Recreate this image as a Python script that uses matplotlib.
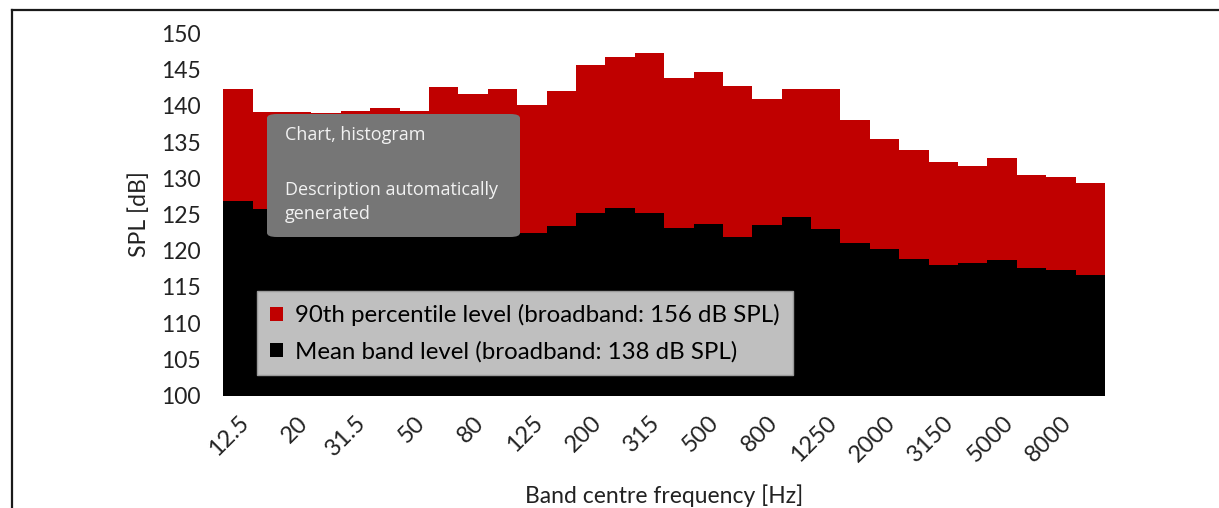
import matplotlib
matplotlib.use("Agg")
import matplotlib.pyplot as plt
from matplotlib.patches import FancyBboxPatch, Patch
from matplotlib.lines import Line2D
import numpy as np

# third-octave band centres [Hz]
bands = ["12.5", "16", "20", "25", "31.5", "40", "50", "63", "80", "100",
         "125", "160", "200", "250", "315", "400", "500", "630", "800", "1000",
         "1250", "1600", "2000", "2500", "3150", "4000", "5000", "6300", "8000", "10000"]

# 90th percentile level [dB SPL]
p90_level = [142.4, 139.1, 139.1, 139.0, 139.3, 139.7, 139.3, 142.6, 141.6, 142.4,
             140.1, 142.1, 145.6, 146.7, 147.3, 143.9, 144.7, 142.8, 140.9, 142.4,
             142.4, 138.1, 135.4, 133.9, 132.3, 131.7, 132.8, 130.4, 130.2, 129.4]

# mean band level [dB SPL] (3..10 hidden behind the tooltip, estimated)
mean_level = [126.9, 125.8, 124.8, 124.3, 124.5, 124.8, 124.2, 124.9, 124.5, 124.7,
              122.4, 123.4, 125.2, 125.9, 125.2, 123.2, 123.7, 121.9, 123.5, 124.7,
              123.0, 121.0, 120.3, 118.8, 118.0, 118.3, 118.7, 117.6, 117.4, 116.6]

W, H = 1219, 508
RED = "#C00000"
FONT = "Lato"

fig = plt.figure(figsize=(W / 100, H / 100), dpi=100)

def px(x, y):
    # pixel position (top-left origin) -> figure fraction
    return x / W, 1 - y / H

x0, y1 = px(223.3, 33.5)
x1, y0 = px(1105, 395.5)
ax = fig.add_axes([x0, y0, x1 - x0, y1 - y0])

x = np.arange(len(bands))
ax.bar(x, p90_level, width=1.0, color=RED, zorder=1)
ax.bar(x, mean_level, width=1.0, color="black", zorder=2)

ax.set_xlim(-0.5, len(bands) - 0.5)
ax.set_ylim(100, 150)
ax.set_yticks(np.arange(100, 151, 5))
ax.set_xticks(x[::2])
ax.set_xticklabels(bands[::2], rotation=45, ha="right", rotation_mode="anchor",
                   fontsize=17, family=FONT, color="#222222")
for lab in ax.get_yticklabels():
    lab.set_family(FONT)
    lab.set_fontsize(16.5)
    lab.set_color("#222222")
ax.tick_params(axis="both", length=0)
ax.tick_params(axis="y", pad=16)
ax.tick_params(axis="x", pad=12)
for s in ax.spines.values():
    s.set_visible(False)

ax.set_ylabel("SPL [dB]", fontsize=16.5, family=FONT, color="#222222", labelpad=8)
ax.set_xlabel("Band centre frequency [Hz]", fontsize=16.5, family=FONT,
              color="#222222", labelpad=13)

# legend
handles = [Patch(facecolor=RED, edgecolor="none"),
           Patch(facecolor="black", edgecolor="none")]
labels = ["90th percentile level (broadband: 156 dB SPL)",
          "Mean band level (broadband: 138 dB SPL)"]
leg = ax.legend(handles, labels, loc="upper left",
                bbox_to_anchor=px(257, 291), bbox_transform=fig.transFigure,
                prop={"family": FONT, "size": 17.3}, fancybox=False,
                facecolor="#BFBFBF", edgecolor="#9A9A9A", framealpha=1,
                handlelength=0.55, handleheight=0.55, handletextpad=0.5,
                borderpad=0.55, labelspacing=0.6, borderaxespad=0)
leg.get_frame().set_linewidth(1.0)
leg.set_zorder(5)

# alt-text tooltip box
bx0, by0 = px(267, 237)
bx1, by1 = px(520, 114)
box = FancyBboxPatch((bx0, by0), bx1 - bx0, by1 - by0,
                     boxstyle="round,pad=0,rounding_size=0.008",
                     transform=fig.transFigure, facecolor="#767676",
                     edgecolor="none", zorder=10)
fig.patches.append(box)
for txt, yy in [("Chart, histogram", 140),
                ("Description automatically", 195),
                ("generated", 219)]:
    fig.text(*px(285, yy), txt, fontsize=13, family="Open Sans",
             color="#F2F2F2", va="baseline", ha="left", zorder=11)

# page frame
fig.lines.append(Line2D([12 / W, 12 / W], [0, 1 - 10 / H], transform=fig.transFigure,
                        color="#1a1a1a", linewidth=1.6))
fig.lines.append(Line2D([12 / W, 1], [1 - 10 / H, 1 - 10 / H], transform=fig.transFigure,
                        color="#1a1a1a", linewidth=1.6))

fig.savefig("out.png", dpi=100)
